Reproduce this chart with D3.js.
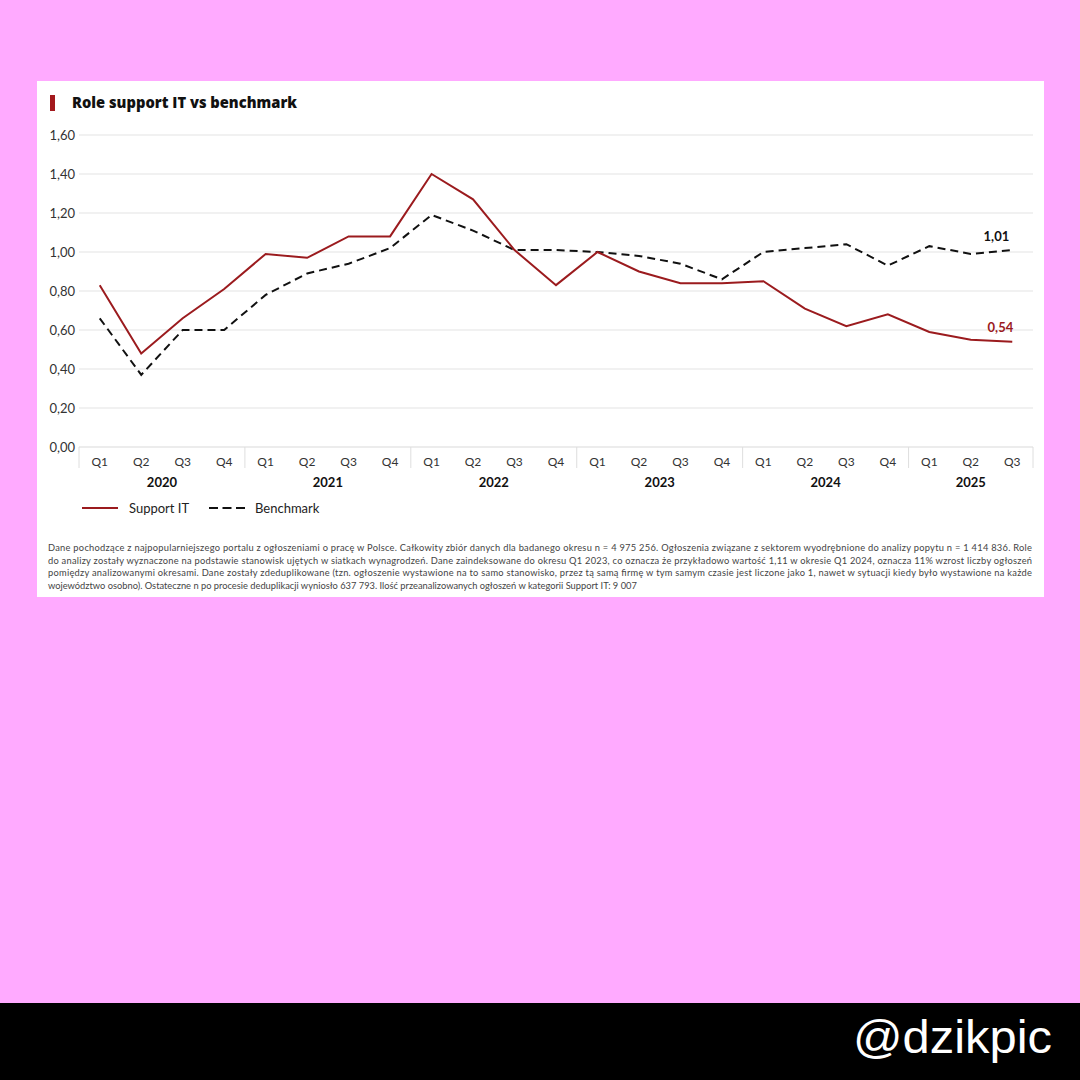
<!DOCTYPE html>
<html>
<head>
<meta charset="utf-8">
<script src="https://cdn.jsdelivr.net/npm/d3@7"></script>
<style>
  html, body { margin: 0; padding: 0; background: #ffaaff; }
  #chart { width: 1080px; height: 1080px; }
</style>
</head>
<body>
<div id="chart"></div>
<script>
// dane
const quarterLabels = ["Q1","Q2","Q3","Q4","Q1","Q2","Q3","Q4","Q1","Q2","Q3","Q4",
                       "Q1","Q2","Q3","Q4","Q1","Q2","Q3","Q4","Q1","Q2","Q3"];
const yearLabels = ["2020","2021","2022","2023","2024","2025"];
const supportIT = [0.83,0.48,0.66,0.81,0.99,0.97,1.08,1.08,1.40,1.27,1.01,0.83,
                   1.00,0.90,0.84,0.84,0.85,0.71,0.62,0.68,0.59,0.55,0.54];
const benchmark = [0.66,0.37,0.60,0.60,0.78,0.89,0.94,1.02,1.19,1.11,1.01,1.01,
                   1.00,0.98,0.94,0.86,1.00,1.02,1.04,0.93,1.03,0.99,1.01];
const yTicks = [0,0.2,0.4,0.6,0.8,1.0,1.2,1.4,1.6];
const seriesNames = ["Support IT","Benchmark"];
const footnote = [
  "Dane pochodzące z najpopularniejszego portalu z ogłoszeniami o pracę w Polsce. Całkowity zbiór danych dla badanego okresu n = 4 975 256. Ogłoszenia związane z sektorem wyodrębnione do analizy popytu n = 1 414 836. Role",
  "do analizy zostały wyznaczone na podstawie stanowisk ujętych w siatkach wynagrodzeń. Dane zaindeksowane do okresu Q1 2023, co oznacza że przykładowo wartość 1,11 w okresie Q1 2024, oznacza 11% wzrost liczby ogłoszeń",
  "pomiędzy analizowanymi okresami. Dane zostały zdeduplikowane  (tzn. ogłoszenie wystawione na to samo stanowisko, przez tą samą firmę w tym samym czasie jest liczone jako 1, nawet w sytuacji kiedy było wystawione na każde",
  "województwo osobno).  Ostateczne n po procesie deduplikacji wyniosło 637 793. Ilość przeanalizowanych ogłoszeń w kategorii Support IT: 9 007"
];

const RED = "#9b1b1e";
const FONT = "Lato, 'Open Sans', sans-serif";
const fmt = v => d3.format(".2f")(v).replace(".", ",");

const svg = d3.select("#chart").append("svg")
    .attr("width", 1080).attr("height", 1080)
    .style("font-family", FONT);

// tło
svg.append("rect").attr("width", 1080).attr("height", 1080).attr("fill", "#ffaaff");
svg.append("rect").attr("x", 37).attr("y", 81).attr("width", 1007).attr("height", 516).attr("fill", "#fff");
svg.append("rect").attr("x", 0).attr("y", 1003).attr("width", 1080).attr("height", 77).attr("fill", "#000");
svg.append("text").attr("x", 1052).attr("y", 1053).attr("text-anchor", "end")
    .attr("font-family", "'Liberation Sans', Arial, sans-serif")
    .attr("font-size", 47).attr("fill", "#fff")
    .attr("textLength", 199).attr("lengthAdjust", "spacingAndGlyphs")
    .text("@dzikpic");

// tytuł
svg.append("rect").attr("x", 50).attr("y", 95).attr("width", 5).attr("height", 16).attr("fill", "#a3191d");
svg.append("text").attr("x", 72).attr("y", 108)
    .attr("font-family", "'Open Sans', Lato, sans-serif")
    .attr("font-size", 15).attr("font-weight", 800).attr("fill", "#111")
    .attr("textLength", 225).attr("lengthAdjust", "spacingAndGlyphs")
    .text("Role support IT vs benchmark");

// skale
const x = d3.scaleBand().domain(d3.range(quarterLabels.length)).range([79, 1033]).padding(0);
const cx = i => x(i) + x.bandwidth() / 2;
const y = d3.scaleLinear().domain([0, 1.6]).range([447, 135]);

// siatka
const g = svg.append("g");
g.selectAll("line.grid").data(yTicks).enter().append("line")
    .attr("class", "grid")
    .attr("x1", 79).attr("x2", 1033)
    .attr("y1", d => y(d)).attr("y2", d => y(d))
    .attr("stroke", d => d === 0 ? "#d9d9d9" : "#e3e3e3").attr("stroke-width", 1);

const yAxis = d3.axisLeft(y).tickValues(yTicks).tickFormat(fmt).tickSize(0).tickPadding(0);
const ya = g.append("g").attr("transform", "translate(75,0)").call(yAxis);
ya.select(".domain").remove();
ya.selectAll("text").attr("font-size", 13).attr("fill", "#333").attr("font-family", FONT).attr("dy", "0.35em");

// oś X: kwartały i lata
const xAxis = d3.axisBottom(x).tickFormat(i => quarterLabels[i]).tickSize(0).tickPadding(10);
const xa = g.append("g").attr("transform", "translate(0,447)").call(xAxis);
xa.select(".domain").remove();
xa.selectAll("text").attr("font-size", 12).attr("fill", "#333").attr("font-family", FONT);

// grupowanie kwartałów w lata
const yearIdx = [];
let yi = -1;
quarterLabels.forEach(q => { if (q === "Q1") yi++; yearIdx.push(yi); });
const yearSpans = yearLabels.map((yr, k) => {
  const idx = d3.range(quarterLabels.length).filter(i => yearIdx[i] === k);
  return { yr, start: x(idx[0]), end: x(idx[idx.length - 1]) + x.bandwidth() };
});
const bounds = [yearSpans[0].start].concat(yearSpans.map(s => s.end));
g.selectAll("line.sep").data(bounds).enter().append("line")
    .attr("class", "sep")
    .attr("x1", d => d).attr("x2", d => d)
    .attr("y1", 447).attr("y2", 468)
    .attr("stroke", "#dedede");
g.selectAll("text.year").data(yearSpans).enter().append("text")
    .attr("class", "year")
    .attr("x", d => (d.start + d.end) / 2).attr("y", 487)
    .attr("text-anchor", "middle")
    .attr("font-size", 13).attr("font-weight", 700).attr("fill", "#111")
    .text(d => d.yr);

// linie
const line = d3.line().x((d, i) => cx(i)).y(d => y(d));
g.append("path").datum(benchmark)
    .attr("d", line).attr("fill", "none")
    .attr("stroke", "#111").attr("stroke-width", 2).attr("stroke-dasharray", "8,5");
g.append("path").datum(supportIT)
    .attr("d", line).attr("fill", "none")
    .attr("stroke", RED).attr("stroke-width", 2);

// etykiety końcowe
const last = quarterLabels.length - 1;
g.append("text").attr("x", cx(last) - 3).attr("y", y(benchmark[last]) - 9)
    .attr("text-anchor", "end").attr("font-size", 13).attr("font-weight", 700).attr("fill", "#111")
    .text(fmt(benchmark[last]));
g.append("text").attr("x", cx(last) + 1).attr("y", y(supportIT[last]) - 10)
    .attr("text-anchor", "end").attr("font-size", 13).attr("font-weight", 700).attr("fill", RED)
    .text(fmt(supportIT[last]));

// legenda
const leg = svg.append("g").attr("transform", "translate(82,508)");
leg.append("line").attr("x1", 0).attr("x2", 36).attr("stroke", RED).attr("stroke-width", 2);
leg.append("text").attr("x", 47).attr("y", 4.5).attr("font-size", 13).attr("fill", "#222").text(seriesNames[0]);
leg.append("line").attr("x1", 127).attr("x2", 163).attr("stroke", "#111").attr("stroke-width", 2).attr("stroke-dasharray", "9,4.5");
leg.append("text").attr("x", 173).attr("y", 4.5).attr("font-size", 13).attr("fill", "#222").text(seriesNames[1]);

// przypis
svg.selectAll("text.note").data(footnote).enter().append("text")
    .attr("class", "note")
    .attr("x", 48).attr("y", (d, i) => 551 + i * 12.7)
    .attr("font-size", 9.3).attr("fill", "#444")
    .attr("textLength", (d, i) => i < 3 ? 984 : null)
    .attr("lengthAdjust", "spacing")
    .text(d => d);
</script>
</body>
</html>
